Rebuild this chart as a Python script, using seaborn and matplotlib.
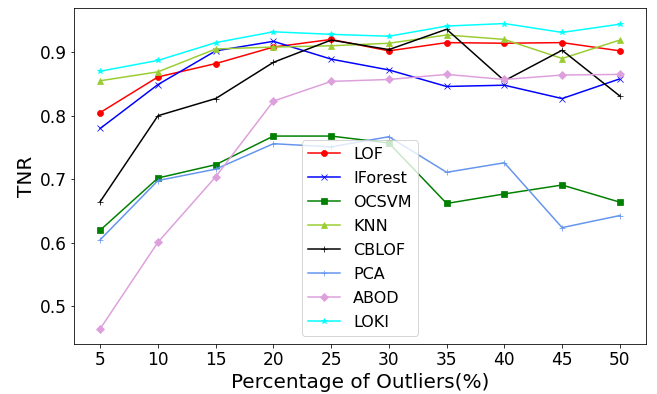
import matplotlib
matplotlib.use("Agg")
import matplotlib.pyplot as plt
import seaborn as sns
import pandas as pd

outlier_pct = [5, 10, 15, 20, 25, 30, 35, 40, 45, 50]

lof = [0.805, 0.861, 0.882, 0.908, 0.920, 0.902, 0.915, 0.914, 0.915, 0.902]
iforest = [0.780, 0.849, 0.902, 0.917, 0.889, 0.872, 0.846, 0.848, 0.827, 0.858]
ocsvm = [0.620, 0.702, 0.723, 0.768, 0.768, 0.757, 0.662, 0.677, 0.691, 0.664]
knn = [0.855, 0.869, 0.905, 0.908, 0.910, 0.914, 0.927, 0.920, 0.890, 0.919]
cblof = [0.665, 0.800, 0.827, 0.884, 0.919, 0.904, 0.936, 0.855, 0.903, 0.831]
pca = [0.605, 0.698, 0.716, 0.756, 0.751, 0.767, 0.711, 0.726, 0.624, 0.643]
abod = [0.465, 0.601, 0.704, 0.823, 0.854, 0.857, 0.865, 0.857, 0.864, 0.865]
loki = [0.870, 0.887, 0.915, 0.932, 0.928, 0.925, 0.941, 0.945, 0.931, 0.944]

methods = ["LOF", "IForest", "OCSVM", "KNN", "CBLOF", "PCA", "ABOD", "LOKI"]
series = [lof, iforest, ocsvm, knn, cblof, pca, abod, loki]
colors = ["red", "blue", "green", "yellowgreen", "black", "cornflowerblue", "plum", "cyan"]
markers = ["o", "x", "s", "^", "+", "+", "D", "*"]

fig, ax = plt.subplots(figsize=(657 / 72, 394 / 72), dpi=72)
fig.subplots_adjust(left=0.113, right=0.983, top=0.979, bottom=0.127)

for name, vals, col, mk in zip(methods, series, colors, markers):
    df = pd.DataFrame({"pct": outlier_pct, "tnr": vals})
    sns.lineplot(data=df, x="pct", y="tnr", ax=ax, color=col, marker=mk,
                 markersize=6, markeredgecolor=col, linewidth=1.5, label=name)

ax.set_xticks(outlier_pct)
ax.tick_params(axis="both", labelsize=17)
ax.set_xlabel("Percentage of Outliers(%)", fontsize=20)
ax.set_ylabel("TNR", fontsize=20)
ax.legend(loc="lower center", fontsize=16, labelspacing=0.56)

fig.savefig("out.png", dpi=72)
